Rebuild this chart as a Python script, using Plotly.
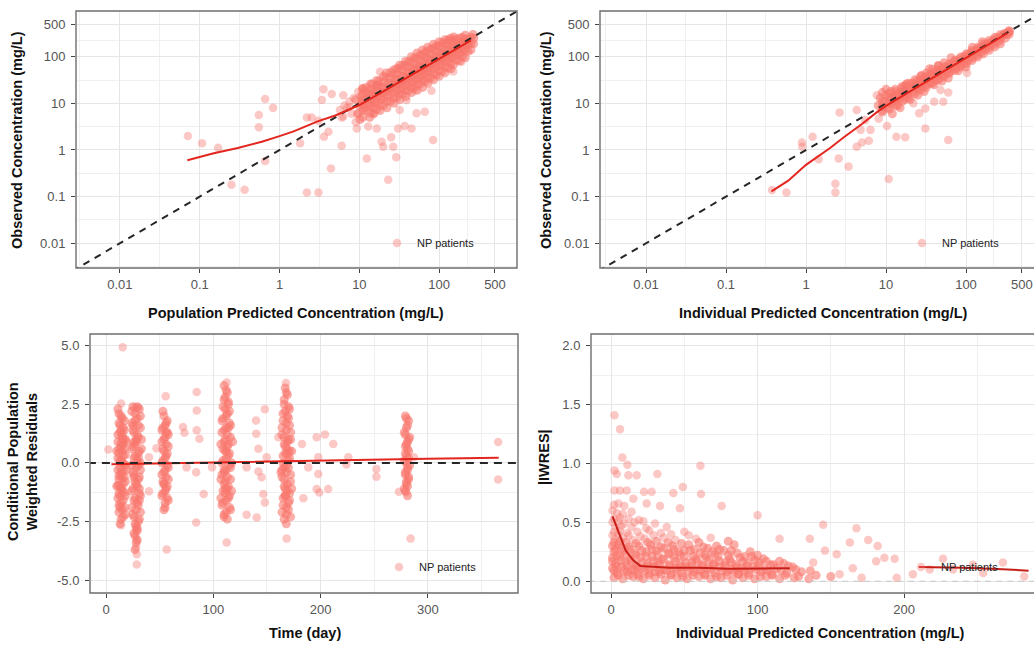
import plotly.graph_objects as go

# ---------------- data ----------------
legend_label = "NP patients"

# Panel 1: PRED vs DV (log-log)
p1_sparse = [
    (0.071, 2.0), (0.107, 1.39), (0.17, 1.12), (0.25, 0.18), (0.365, 0.14), (0.66, 12.4), (0.83, 8.0),
    (0.55, 5.6), (0.55, 3.06), (0.66, 0.58), (1.81, 1.39), (2.2, 5.0), (2.53, 5.0), (3.07, 4.26),
    (2.2, 0.122), (3.07, 0.122), (3.55, 20), (4.5, 15.9), (3.4, 11.8), (4.1, 2.47), (3.6, 1.93),
    (4.4, 0.40), (6.0, 1.24), (5.7, 7.2), (6.3, 15), (6.3, 5.2), (9.3, 2.9), (9.7, 6.1), (12.4, 0.66),
    (12.9, 3.2), (16.5, 2.9), (19, 1.5), (19.9, 1.18), (23, 0.23), (26.6, 1.18), (29, 0.7), (25, 1.87),
    (30.6, 2.9), (37, 3.27), (45, 2.9), (84, 1.64), (66, 6.6), (80, 18.7), (150, 48), (190, 78),
    (15, 6.1), (7.6, 8.5), (9.7, 17.8), (16.5, 24.6), (18.1, 47.5), (21.9, 19.3), (32, 7.2), (39, 11.8),
    (52, 6.1), (50, 19.3), (6, 5), (7, 8), (8, 6), (7.5, 11), (8.5, 13), (6.5, 9), (9, 4),
]
p1_dense = [
    (9.5, 6), (10, 9), (10.5, 14), (11, 20), (9, 12), (10.2, 4.5), (11.5, 8), (10.8, 11),
    (12, 7), (12.5, 10), (13, 16), (12.2, 22), (13.5, 5), (12.8, 13), (13.2, 9), (12, 18),
    (15, 8), (15.5, 12), (16, 20), (14.5, 26), (15.2, 6), (16.2, 15), (15.8, 10), (14.8, 17),
    (18, 9), (18.5, 14), (19, 22), (17.5, 30), (18.2, 7), (19.5, 17), (18.8, 12), (17.8, 25),
    (22, 11), (22.5, 18), (23, 27), (21.5, 36), (22.2, 8), (23.5, 21), (22.8, 14), (21.8, 45),
    (27, 13), (27.5, 21), (28, 32), (26.5, 42), (27.2, 10), (28.5, 26), (27.8, 17), (26.8, 52),
    (32, 16), (32.5, 26), (33, 38), (31.5, 55), (32.2, 12), (33.5, 30), (32.8, 20), (31.8, 66),
    (38, 19), (38.5, 30), (39, 45), (37.5, 65), (38.2, 14), (39.5, 36), (38.8, 24), (37.8, 80),
    (45, 22), (45.5, 36), (46, 55), (44.5, 80), (45.2, 17), (46.5, 44), (45.8, 28), (44.8, 100),
    (53, 26), (53.5, 42), (54, 64), (52.5, 95), (53.2, 19), (54.5, 52), (53.8, 33), (52.8, 120),
    (62, 31), (62.5, 50), (63, 75), (61.5, 110), (62.2, 22), (63.5, 60), (62.8, 40), (61.8, 140),
    (72, 36), (72.5, 58), (73, 88), (71.5, 130), (72.2, 27), (73.5, 70), (72.8, 46), (71.8, 160),
    (85, 42), (85.5, 68), (86, 100), (84.5, 150), (85.2, 32), (86.5, 82), (85.8, 55), (84.8, 185),
    (100, 50), (100.5, 80), (101, 118), (99.5, 170), (100.2, 38), (101.5, 95), (100.8, 65), (99.8, 210),
    (118, 60), (118.5, 95), (119, 138), (117.5, 195), (118.2, 45), (119.5, 112), (118.8, 78), (117.8, 230),
    (140, 72), (140.5, 110), (141, 160), (139.5, 220), (140.2, 55), (141.5, 130), (140.8, 92), (139.8, 250),
    (165, 85), (165.5, 130), (166, 185), (164.5, 240), (166.5, 150), (165.8, 108),
    (195, 100), (195.5, 150), (196, 210), (194.5, 260), (196.5, 175), (195.8, 125),
    (230, 130), (230.5, 180), (231, 240), (232, 200), (270, 190), (272, 250), (265, 300),
    (11, 5), (11, 7.2), (11, 9.5), (11, 12), (11, 16), (11, 21),
    (13.8, 6.2), (13.8, 9), (13.8, 11.8), (13.8, 15), (13.8, 20), (13.8, 26),
    (16.5, 7.4), (16.5, 10.7), (16.5, 14), (16.5, 18), (16.5, 24), (16.5, 31),
    (20, 9), (20, 13), (20, 17), (20, 22), (20, 29), (20, 38),
    (24.5, 11), (24.5, 16), (24.5, 21), (24.5, 27), (24.5, 35), (24.5, 46),
    (29.5, 13.3), (29.5, 19), (29.5, 25), (29.5, 32), (29.5, 43), (29.5, 56),
    (35, 15.8), (35, 23), (35, 30), (35, 38), (35, 51), (35, 66),
    (41.5, 18.7), (41.5, 27), (41.5, 35), (41.5, 46), (41.5, 60), (41.5, 78),
    (49, 22), (49, 32), (49, 42), (49, 54), (49, 71), (49, 93),
    (57.5, 26), (57.5, 37), (57.5, 49), (57.5, 63), (57.5, 83), (57.5, 108),
    (67, 30), (67, 44), (67, 57), (67, 74), (67, 97), (67, 125),
    (78, 35), (78, 51), (78, 66), (78, 86), (78, 113), (78, 145),
    (92, 41), (92, 60), (92, 78), (92, 101), (92, 133), (92, 170),
    (109, 49), (109, 71), (109, 93), (109, 120), (109, 158), (109, 200),
    (129, 58), (129, 84), (129, 110), (129, 142), (129, 185), (129, 230),
    (152, 68), (152, 99), (152, 129), (152, 167), (152, 215), (152, 265),
    (180, 81), (180, 117), (180, 153), (180, 198), (180, 250),
    (212, 95), (212, 138), (212, 180), (212, 233), (212, 290),
    (250, 140), (250, 190), (250, 260),
]
p1_smooth_x = [0.07, 0.15, 0.3, 0.6, 1, 1.5, 2.2, 3, 5, 7, 10, 20, 50, 100, 200, 250]
p1_smooth_y = [0.6, 0.85, 1.1, 1.5, 1.98, 2.5, 3.3, 4.1, 5.5, 7.0, 9.2, 18, 45, 90, 185, 225]

# Panel 2: IPRED vs DV (log-log)
p2_sparse = [
    (0.376, 0.139), (0.57, 0.122), (0.89, 1.44), (0.9, 1.18), (1.21, 1.93), (1.44, 0.63), (2.33, 0.19),
    (2.33, 0.122), (2.56, 0.66), (2.63, 6.4), (3.4, 0.44), (4.3, 1.18), (5.0, 1.44), (6.1, 1.58),
    (4.3, 7.2), (5.5, 4.4), (4.8, 2.7), (6.4, 2.7), (8.1, 4.7), (10.3, 3.27), (10.8, 0.24), (13.5, 1.93),
    (17.4, 1.87), (31, 2.9), (60, 1.64), (60, 17), (52, 10.8), (40, 10.8), (48, 19.3), (103, 45),
    (31, 7.8), (22, 10), (26, 6.1), (7.7, 15), (8.9, 8.5),
]
p2_dense = [
    (8, 9), (8.5, 13), (9, 7), (9.5, 11), (10, 15), (10.5, 8), (11, 12), (11.5, 18), (12, 10), (12.5, 14),
    (13, 20), (13.5, 11), (14, 16), (15, 13), (15.5, 21), (16, 17), (17, 12), (17.5, 24), (18, 19), (19, 15),
    (20, 22), (21, 27), (22, 18), (23, 24), (24, 30), (25, 20), (26, 26), (27, 33), (28, 22), (30, 29),
    (31, 36), (32, 25), (34, 33), (35, 40), (36, 27), (38, 37), (40, 45), (41, 31), (43, 41), (45, 50),
    (46, 35), (48, 46), (50, 55), (52, 40), (55, 52), (57, 62), (58, 44), (62, 58), (64, 70), (66, 50),
    (70, 66), (72, 78), (75, 58), (80, 76), (82, 88), (85, 65), (90, 86), (93, 100), (96, 74), (100, 97),
    (105, 112), (108, 84), (115, 110), (118, 126), (122, 95), (130, 125), (134, 140), (138, 108),
    (145, 142), (150, 158), (155, 122), (165, 160), (170, 178), (175, 140), (185, 180), (192, 200),
    (198, 158), (210, 205), (220, 230), (225, 185), (240, 235), (250, 260), (260, 215), (280, 275),
    (300, 305), (320, 300), (340, 330), (350, 345),
    (20, 12), (25, 15), (30, 18), (40, 25), (50, 30), (60, 35), (12, 6), (15, 8), (100, 60), (80, 50),
    (35, 55), (45, 65), (10, 20), (9, 17), (14, 9), (18, 26), (28, 40), (65, 95), (120, 160), (160, 210),
    (9, 6.5), (9, 8.5), (9, 11), (11, 7.5), (11, 10), (11, 13), (11, 16), (13, 9), (13, 12), (13, 15),
    (13, 18), (16, 11), (16, 14.5), (16, 18.5), (16, 23), (19, 13), (19, 17), (19, 22), (19, 27),
    (23, 16), (23, 21), (23, 26), (23, 32), (27, 19), (27, 24), (27, 31), (27, 38), (32, 22), (32, 29),
    (32, 37), (32, 45), (38, 27), (38, 34), (38, 44), (38, 54), (45, 32), (45, 41), (45, 52), (45, 63),
    (53, 37), (53, 48), (53, 61), (53, 74), (62, 44), (62, 56), (62, 71), (73, 51), (73, 66), (73, 84),
    (86, 60), (86, 77), (86, 99), (101, 71), (101, 91), (101, 116), (119, 83), (119, 107), (119, 136),
    (140, 98), (140, 126), (140, 160), (165, 115), (165, 148), (165, 190), (195, 137), (195, 175),
    (195, 222), (230, 162), (230, 207), (230, 262), (270, 190), (270, 243), (270, 300), (310, 250),
    (310, 320), (345, 300), (345, 360),
]
p2_smooth_x = [0.37, 0.6, 1, 2, 3, 5, 8, 10, 20, 50, 100, 200, 330]
p2_smooth_y = [0.13, 0.22, 0.48, 1.1, 1.9, 3.6, 6.8, 8.8, 18, 46, 92, 190, 320]

# Panel 3: time vs CWRES
p3_sparse = [
    (2.2, 0.57), (15.5, 4.93), (40, 0.24), (40, -1.21), (47, 0.63), (56.5, -3.69), (55.6, 2.84),
    (71.7, 1.53), (73, 1.29), (84.5, 3.03), (84.5, 2.24), (84.5, 1.39), (87, 1.03), (84, -0.4),
    (84, -2.54), (91, -1.33), (75, -0.19), (98.8, -0.19), (131, -2.21), (140.4, -2.33), (148, 2.29),
    (139.8, 1.81), (140, 1.24), (142, 0.6), (142, -0.37), (145, -0.61), (146.6, -1.33), (148, -1.69),
    (149.7, 0.24), (131, -0.19), (160.6, 1.1), (182.6, 0.81), (183.9, -1.51), (188.5, -0.19),
    (196.3, 1.1), (204, 1.21), (197.8, 0.24), (197.8, -0.47), (198.8, -1.26), (196.3, -1.11),
    (207, -1.11), (211.8, 0.81), (225.8, 0.24), (224, -0.07), (252, -0.26), (252, -0.59),
    (273, -1.23), (280, -1.26), (283.9, -3.23), (287, 0.24), (365.5, 0.89), (365.5, -0.71),
    (112.4, -3.4), (168.3, -3.23), (167.7, 3.41), (112.4, 3.43), (14, -2.66), (14, 2.53),
    (28.6, -4.33), (28.6, -3.9), (28, -3.59), (28.6, -3.26), (28, -2.83), (27, 2.36), (30, 2.36),
]
p3_dense = [
    # column near day 14
    (11, 2.3), (14, 2.0), (17, 1.8), (12, 1.7), (16, 1.5), (13, 1.3), (15, 1.2), (18, 1.0), (11, 0.9),
    (14, 0.7), (17, 0.6), (12, 0.4), (16, 0.3), (13, 0.1), (15, 0.0), (18, -0.1), (11, -0.3), (14, -0.4),
    (17, -0.6), (12, -0.7), (16, -0.9), (13, -1.0), (15, -1.2), (18, -1.4), (11, -1.5), (14, -1.7),
    (17, -1.9), (12, -2.1), (16, -2.3), (13, -2.6), (15, 1.1), (14, -0.5), (16, 0.8), (12, -1.3),
    (12, 2.1), (15, 1.9), (13, 1.6), (17, 1.4), (11, 1.2), (16, 1.0), (14, 0.85), (12, 0.6), (15, 0.5),
    (18, 0.35), (11, 0.2), (14, 0.1), (17, -0.05), (13, -0.2), (16, -0.35), (12, -0.55), (15, -0.65),
    (18, -0.8), (11, -0.95), (14, -1.1), (17, -1.25), (13, -1.4), (16, -1.6), (12, -1.8), (15, -2.0),
    (18, -2.2), (14, -2.4), (10, 0.5), (19, -0.3), (10, -1.0), (19, 0.9), (14, 1.4), (13, -1.9),
    # column near day 28
    (25, 2.4), (31, 2.3), (27, 2.1), (29, 1.9), (24, 1.7), (32, 1.5), (26, 1.3), (30, 1.1), (28, 0.9),
    (25, 0.7), (31, 0.5), (27, 0.3), (29, 0.1), (24, -0.1), (32, -0.3), (26, -0.5), (30, -0.7),
    (28, -0.9), (25, -1.1), (31, -1.3), (27, -1.5), (29, -1.7), (24, -1.9), (32, -2.1), (26, -2.3),
    (30, -2.5), (28, -2.7), (29, -2.9), (27, -3.1), (29, -3.3), (28, 1.0), (26, -0.6), (30, 0.2),
    (31, -1.6), (25, 1.6), (33, 0.6),
    (24, 2.2), (29, 2.4), (32, 2.0), (27, 1.8), (30, 1.6), (25, 1.4), (29, 1.2), (33, 1.0), (27, 0.8),
    (24, 0.6), (30, 0.4), (26, 0.2), (32, 0.0), (28, -0.2), (25, -0.4), (31, -0.6), (27, -0.8),
    (29, -1.0), (24, -1.2), (32, -1.4), (26, -1.6), (30, -1.8), (28, -2.0), (25, -2.2), (31, -2.4),
    (27, -2.6), (29, -2.8), (26, -3.0), (28, -3.4), (27, -3.7), (30, -0.1), (26, 0.9), (31, -1.1),
    # column near day 56
    (53, 2.2), (57, 1.8), (55, 1.6), (52, 1.4), (58, 1.2), (54, 1.0), (56, 0.8), (53, 0.6), (57, 0.4),
    (55, 0.2), (52, 0.0), (58, -0.2), (54, -0.4), (56, -0.6), (53, -0.8), (57, -1.0), (55, -1.2),
    (52, -1.4), (58, -1.6), (55, -1.9), (56, 1.3), (54, -0.9),
    (54, 2.0), (56, 1.7), (53, 1.5), (57, 1.3), (55, 1.1), (52, 0.9), (58, 0.7), (54, 0.5), (56, 0.3),
    (53, 0.1), (57, -0.1), (55, -0.3), (52, -0.5), (58, -0.7), (54, -0.9), (56, -1.1), (53, -1.3),
    (57, -1.5), (55, -1.7), (54, -2.0),
    # column near day 112
    (110, 3.3), (113, 3.0), (111, 2.8), (114, 2.6), (109, 2.4), (115, 2.2), (112, 2.0), (108, 1.8),
    (116, 1.6), (110, 1.4), (113, 1.2), (111, 1.0), (114, 0.8), (109, 0.6), (115, 0.4), (112, 0.2),
    (108, 0.0), (116, -0.2), (110, -0.4), (113, -0.6), (111, -0.8), (114, -1.0), (109, -1.2),
    (115, -1.4), (112, -1.6), (108, -1.8), (116, -2.0), (110, -2.2), (113, -2.4), (112, 0.5),
    (110, -0.3), (114, 1.5), (111, -1.1), (118, 0.9), (107, -0.7),
    (112, 3.1), (110, 2.7), (114, 2.5), (111, 2.3), (113, 2.1), (109, 1.9), (115, 1.7), (112, 1.5),
    (108, 1.3), (116, 1.1), (110, 0.9), (113, 0.7), (111, 0.5), (114, 0.3), (109, 0.1), (115, -0.1),
    (112, -0.3), (108, -0.5), (116, -0.7), (110, -0.9), (113, -1.1), (111, -1.3), (114, -1.5),
    (109, -1.7), (115, -1.9), (112, -2.1), (110, -2.3), (117, 0.0), (107, 0.8), (117, -1.2), (107, -1.5),
    # column near day 168
    (167, 3.2), (169, 2.9), (166, 2.5), (171, 2.3), (165, 2.1), (170, 1.9), (168, 1.7), (164, 1.5),
    (172, 1.3), (166, 1.1), (169, 0.9), (167, 0.7), (171, 0.5), (165, 0.3), (170, 0.1), (168, -0.1),
    (164, -0.3), (172, -0.5), (166, -0.7), (169, -0.9), (167, -1.1), (171, -1.3), (165, -1.5),
    (170, -1.7), (168, -1.9), (164, -2.1), (172, -2.3), (168, -2.6), (169, 0.4), (166, -0.2),
    (170, 1.0), (167, -1.4),
    (168, 3.0), (166, 2.7), (170, 2.4), (167, 2.2), (169, 2.0), (165, 1.8), (171, 1.6), (168, 1.4),
    (164, 1.2), (172, 1.0), (166, 0.8), (169, 0.6), (167, 0.4), (171, 0.2), (165, 0.0), (170, -0.2),
    (168, -0.4), (164, -0.6), (172, -0.8), (166, -1.0), (169, -1.2), (167, -1.4), (171, -1.6),
    (165, -1.8), (170, -2.0), (168, -2.2), (166, -2.4), (173, 0.5), (163, -0.4), (173, -1.1),
    # column near day 280
    (279, 2.0), (282, 1.8), (280, 1.5), (278, 1.3), (283, 1.1), (281, 0.9), (279, 0.7), (282, 0.5),
    (280, 0.3), (278, 0.1), (283, -0.1), (281, -0.3), (279, -0.5), (282, -0.7), (280, -0.9),
    (278, -1.1), (281, -1.4),
    (280, 1.9), (281, 1.6), (279, 1.2), (282, 1.0), (280, 0.8), (281, 0.6), (279, 0.4), (282, 0.2),
    (280, 0.0), (281, -0.2), (279, -0.4), (282, -0.6), (280, -0.8), (281, -1.0), (279, -1.2),
]
p3_smooth_x = [5, 50, 100, 150, 200, 250, 300, 366]
p3_smooth_y = [-0.06, -0.02, 0.02, 0.06, 0.10, 0.14, 0.18, 0.22]

# Panel 4: IPRED vs |IWRES|
p4_sparse = [
    (2.3, 1.41), (6.1, 1.29), (7.7, 1.05), (11.1, 0.99), (2.3, 0.94), (3.9, 0.91), (11.8, 0.90),
    (17.5, 0.90), (31.6, 0.91), (61, 0.98), (49, 0.80), (42.5, 0.75), (22.5, 0.76), (27.7, 0.76),
    (61.4, 0.74), (75.5, 0.64), (2.3, 0.77), (6.1, 0.77), (10.7, 0.77), (15.2, 0.70), (24.3, 0.66),
    (33.4, 0.64), (47, 0.62), (100, 0.56), (144.8, 0.48), (167.5, 0.45), (175.5, 0.35), (163, 0.33),
    (135.7, 0.36), (115, 0.36), (146, 0.26), (182, 0.30), (186.6, 0.20), (193.6, 0.19), (206, 0.06),
    (226.6, 0.19), (233.4, 0.10), (247, 0.14), (267.5, 0.16), (282, 0.04), (195, 0.03), (171, 0.03),
    (156, 0.06), (165, 0.11), (154, 0.23), (138, 0.16), (181, 0.17), (217.5, 0.10), (254, 0.07),
    (3, 0.36), (8, 0.37), (15, 0.35), (23, 0.36), (36, 0.37), (44, 0.35), (58, 0.36), (68, 0.37),
    (2, 0.42), (6, 0.43), (11, 0.41), (18, 0.42), (26, 0.43), (34, 0.41), (50, 0.42),
    (1, 0.50), (5, 0.51), (9, 0.49), (16, 0.50), (22, 0.51), (30, 0.49),
    (1, 0.60), (4, 0.58), (8, 0.57), (14, 0.59),
    (1, 0.39), (5, 0.40), (12, 0.39), (20, 0.38), (29, 0.39), (41, 0.40), (53, 0.39),
    (3, 0.46), (7, 0.47), (14, 0.46), (24, 0.45), (38, 0.46),
    (2, 0.53), (6, 0.54), (12, 0.53), (19, 0.52),
    (2, 0.65), (5, 0.66), (9, 0.64),
]
p4_dense = [
    (2, 0.03), (8, 0.02), (15, 0.04), (22, 0.02), (30, 0.03), (37, 0.01), (45, 0.03), (52, 0.02),
    (60, 0.04), (68, 0.02), (75, 0.03), (83, 0.01), (90, 0.03), (98, 0.02), (106, 0.04), (115, 0.02),
    (125, 0.03), (135, 0.02),
    (4, 0.07), (11, 0.08), (18, 0.06), (26, 0.07), (33, 0.08), (41, 0.06), (48, 0.07), (56, 0.08),
    (64, 0.06), (71, 0.07), (79, 0.08), (87, 0.06), (94, 0.07), (102, 0.08), (110, 0.06), (120, 0.07),
    (130, 0.08),
    (1, 0.11), (7, 0.12), (14, 0.10), (21, 0.11), (29, 0.12), (36, 0.10), (44, 0.11), (51, 0.12),
    (59, 0.10), (66, 0.11), (74, 0.12), (82, 0.10), (89, 0.11), (97, 0.12), (105, 0.10), (113, 0.11),
    (124, 0.12),
    (3, 0.15), (10, 0.16), (17, 0.14), (25, 0.15), (32, 0.16), (40, 0.14), (47, 0.15), (55, 0.16),
    (62, 0.14), (70, 0.15), (78, 0.16), (85, 0.14), (93, 0.15), (101, 0.16), (109, 0.14), (118, 0.15),
    (1, 0.20), (6, 0.21), (13, 0.19), (20, 0.20), (28, 0.21), (35, 0.19), (43, 0.20), (50, 0.21),
    (58, 0.19), (65, 0.20), (73, 0.21), (81, 0.19), (88, 0.20), (96, 0.21), (104, 0.19),
    (2, 0.25), (9, 0.26), (16, 0.24), (24, 0.25), (31, 0.26), (39, 0.24), (46, 0.25), (54, 0.26),
    (61, 0.24), (69, 0.25), (77, 0.26), (86, 0.24), (95, 0.25),
    (1, 0.30), (5, 0.31), (12, 0.29), (19, 0.30), (27, 0.31), (34, 0.29), (42, 0.30), (53, 0.31),
    (63, 0.29), (72, 0.30), (84, 0.31),
    (5, 0.05), (12, 0.05), (19, 0.04), (26, 0.05), (34, 0.06), (41, 0.05), (49, 0.04), (56, 0.05),
    (64, 0.05), (72, 0.04), (79, 0.05), (87, 0.06), (94, 0.05), (102, 0.04), (110, 0.05), (119, 0.05),
    (128, 0.04), (140, 0.05), (150, 0.04),
    (2, 0.09), (9, 0.09), (16, 0.10), (23, 0.09), (30, 0.08), (38, 0.09), (45, 0.10), (53, 0.09),
    (61, 0.09), (68, 0.10), (76, 0.09), (84, 0.08), (91, 0.09), (99, 0.10), (107, 0.09), (116, 0.09),
    (126, 0.10), (136, 0.09),
    (4, 0.13), (11, 0.13), (18, 0.12), (25, 0.13), (33, 0.14), (40, 0.13), (48, 0.12), (55, 0.13),
    (63, 0.13), (70, 0.14), (78, 0.13), (86, 0.12), (93, 0.13), (101, 0.13), (111, 0.14), (121, 0.13),
    (1, 0.17), (7, 0.18), (14, 0.17), (21, 0.16), (29, 0.17), (36, 0.18), (44, 0.17), (51, 0.16),
    (59, 0.17), (67, 0.18), (74, 0.17), (82, 0.16), (90, 0.17), (98, 0.18), (106, 0.17), (115, 0.17),
    (4, 0.22), (10, 0.23), (17, 0.22), (24, 0.21), (32, 0.22), (40, 0.23), (47, 0.22), (56, 0.21),
    (64, 0.22), (71, 0.23), (80, 0.22), (91, 0.21), (100, 0.22),
    (3, 0.27), (7, 0.28), (13, 0.27), (21, 0.26), (28, 0.27), (36, 0.28), (43, 0.27), (50, 0.26),
    (57, 0.27), (66, 0.28), (74, 0.27), (82, 0.26),
    (2, 0.33), (6, 0.34), (10, 0.33), (17, 0.32), (25, 0.33), (31, 0.34), (39, 0.33), (48, 0.32),
    (60, 0.33), (80, 0.34),
]
p4_smooth1_x = [1, 5, 10, 15, 20, 40, 60, 80, 95, 110, 122]
p4_smooth1_y = [0.55, 0.42, 0.26, 0.18, 0.13, 0.115, 0.115, 0.105, 0.105, 0.11, 0.11]
p4_smooth2_x = [210, 240, 260, 285]
p4_smooth2_y = [0.12, 0.115, 0.105, 0.09]

identity_line = [0.0005, 2000]
zero_line_x = [-30, 400]
zero_line_y = [0, 0]

log_ticks = [0.01, 0.1, 1, 10, 100, 500]
log_ticktext = ["0.01", "0.1", "1", "10", "100", "500"]
log_minor = [0.00316, 0.0316, 0.316, 3.16, 31.6, 223.6]
cwres_ticks = [-5, -2.5, 0, 2.5, 5]
cwres_ticktext = ["-5.0", "-2.5", "0.0", "2.5", "5.0"]
time_ticks = [0, 100, 200, 300]
iwres_ticks = [0, 0.5, 1, 1.5, 2]
iwres_ticktext = ["0.0", "0.5", "1.0", "1.5", "2.0"]
ipred_ticks = [0, 100, 200]

# ---------------- styling ----------------
PT = "#F8766D"
RED = "#E3261E"
FONT = "Liberation Sans, Arial, sans-serif"
W, H = 1034, 645

fig = go.Figure()


def split(pts):
    return [p[0] for p in pts], [p[1] for p in pts]


def add_points(sparse, dense, xa, ya, leg):
    # dense cores stand for many more overlapping observations, so drawn more opaque
    x, y = split(dense)
    fig.add_trace(go.Scatter(x=x, y=y, mode="markers", xaxis=xa, yaxis=ya, showlegend=False,
                             marker=dict(color=PT, size=9, opacity=0.6, line=dict(width=0))))
    x, y = split(sparse)
    fig.add_trace(go.Scatter(x=x, y=y, mode="markers", xaxis=xa, yaxis=ya, name=legend_label,
                             legend=leg, showlegend=True,
                             marker=dict(color=PT, size=8.5, opacity=0.4, line=dict(width=0))))


def add_line(x, y, xa, ya, color, dash=None, width=2):
    fig.add_trace(go.Scatter(x=x, y=y, mode="lines", xaxis=xa, yaxis=ya, showlegend=False,
                             line=dict(color=color, width=width, dash=dash), hoverinfo="skip"))


# panel 1
add_points(p1_sparse, p1_dense, "x", "y", "legend")
add_line(identity_line, identity_line, "x", "y", "#262626", dash="7px,6px", width=2)
add_line(p1_smooth_x, p1_smooth_y, "x", "y", RED)
# panel 2
add_points(p2_sparse, p2_dense, "x2", "y2", "legend2")
add_line(identity_line, identity_line, "x2", "y2", "#262626", dash="7px,6px", width=2)
add_line(p2_smooth_x, p2_smooth_y, "x2", "y2", RED)
# panel 3
add_points(p3_sparse, p3_dense, "x3", "y3", "legend3")
add_line(p3_smooth_x, p3_smooth_y, "x3", "y3", RED)
add_line(zero_line_x, zero_line_y, "x3", "y3", "#262626", dash="8px,6px", width=2)
# panel 4
add_points(p4_sparse, p4_dense, "x4", "y4", "legend4")
add_line(zero_line_x, zero_line_y, "x4", "y4", "#c8c8c8", dash="6px,5px", width=1.2)
add_line(p4_smooth1_x, p4_smooth1_y, "x4", "y4", "#C81E18")
add_line(p4_smooth2_x, p4_smooth2_y, "x4", "y4", "#C81E18")


def axis(domain, anchor, **kw):
    d = dict(domain=domain, anchor=anchor, showgrid=True, gridcolor="#e6e6e6", gridwidth=1,
             zeroline=False, showline=False, ticks="outside", ticklen=4, tickcolor="#444444",
             tickwidth=1, tickfont=dict(family=FONT, size=13, color="#555555"))
    d.update(kw)
    return d


def minor(vals):
    return dict(tickvals=vals, showgrid=True, gridcolor="#f0f0f0", gridwidth=0.8, ticks="")


top = [1 - 268 / H, 1 - 11 / H]
bot = [1 - 593 / H, 1 - 334 / H]

fig.update_layout(
    width=W, height=H, margin=dict(l=0, r=0, t=0, b=0),
    paper_bgcolor="white", plot_bgcolor="white", font=dict(family=FONT),
    xaxis=axis([76 / W, 517 / W], "y", type="log", range=[-2.55, 2.975], tickvals=log_ticks,
               ticktext=log_ticktext, minor=minor(log_minor)),
    yaxis=axis(top, "x", type="log", range=[-2.53, 2.98], tickvals=log_ticks, ticktext=log_ticktext,
               minor=minor(log_minor), ticklabelstandoff=3),
    xaxis2=axis([600 / W, 1.0], "y2", type="log", range=[-2.575, 2.85], tickvals=log_ticks,
                ticktext=log_ticktext, minor=minor(log_minor)),
    yaxis2=axis(top, "x2", type="log", range=[-2.53, 2.98], tickvals=log_ticks, ticktext=log_ticktext,
                minor=minor(log_minor), ticklabelstandoff=3),
    xaxis3=axis([90 / W, 518 / W], "y3", range=[-15, 384], tickvals=time_ticks,
                minor=minor([50, 150, 250, 350])),
    yaxis3=axis(bot, "x3", range=[-5.55, 5.5], tickvals=cwres_ticks, ticktext=cwres_ticktext,
                minor=minor([-3.75, -1.25, 1.25, 3.75]), ticklabelstandoff=3),
    xaxis4=axis([591 / W, 1.0], "y4", range=[-13.7, 288.7], tickvals=ipred_ticks,
                minor=minor([50, 150, 250])),
    yaxis4=axis(bot, "x4", range=[-0.1, 2.1], tickvals=iwres_ticks, ticktext=iwres_ticktext,
                minor=minor([0.25, 0.75, 1.25, 1.75]), ticklabelstandoff=3),
)

# legends inside panels
leg_common = dict(bgcolor="rgba(0,0,0,0)", borderwidth=0, font=dict(family=FONT, size=11, color="#222222"),
                  xanchor="left", yanchor="middle", itemclick=False, itemdoubleclick=False)
fig.update_layout(
    legend=dict(x=377 / W, y=1 - 243 / H, **leg_common),
    legend2=dict(x=902 / W, y=1 - 243 / H, **leg_common),
    legend3=dict(x=379 / W, y=1 - 567 / H, **leg_common),
    legend4=dict(x=901 / W, y=1 - 567 / H, **leg_common),
)

# panel borders
border = dict(type="rect", line=dict(color="#6e6e6e", width=1.4), fillcolor="rgba(0,0,0,0)", layer="above")
for xa, ya, x1 in [("x", "y", 1), ("x2", "y2", 1.02), ("x3", "y3", 1), ("x4", "y4", 1.02)]:
    fig.add_shape(xref=f"{xa} domain", yref=f"{ya} domain", x0=0, x1=x1, y0=0, y1=1, **border)

# axis titles
tfont = dict(family=FONT, size=14.5, color="#111111")
titles = [
    ("<b>Population Predicted Concentration (mg/L)</b>", 296, 313, 0),
    ("<b>Individual Predicted Concentration (mg/L)</b>", 823, 313, 0),
    ("<b>Time (day)</b>", 305, 633, 0),
    ("<b>Individual Predicted Concentration (mg/L)</b>", 820, 633, 0),
    ("<b>Observed Concentration (mg/L)</b>", 17, 140, -90),
    ("<b>Observed Concentration (mg/L)</b>", 546, 140, -90),
    ("<b>Conditional Population<br>Weighted Residuals</b>", 22, 462, -90),
    ("<b>|IWRES|</b>", 544, 457, -90),
]
for text, px, py, ang in titles:
    fig.add_annotation(text=text, xref="paper", yref="paper", x=px / W, y=1 - py / H,
                       xanchor="center", yanchor="middle", showarrow=False, textangle=ang,
                       font=tfont, align="center")

fig.write_html("out.html")
